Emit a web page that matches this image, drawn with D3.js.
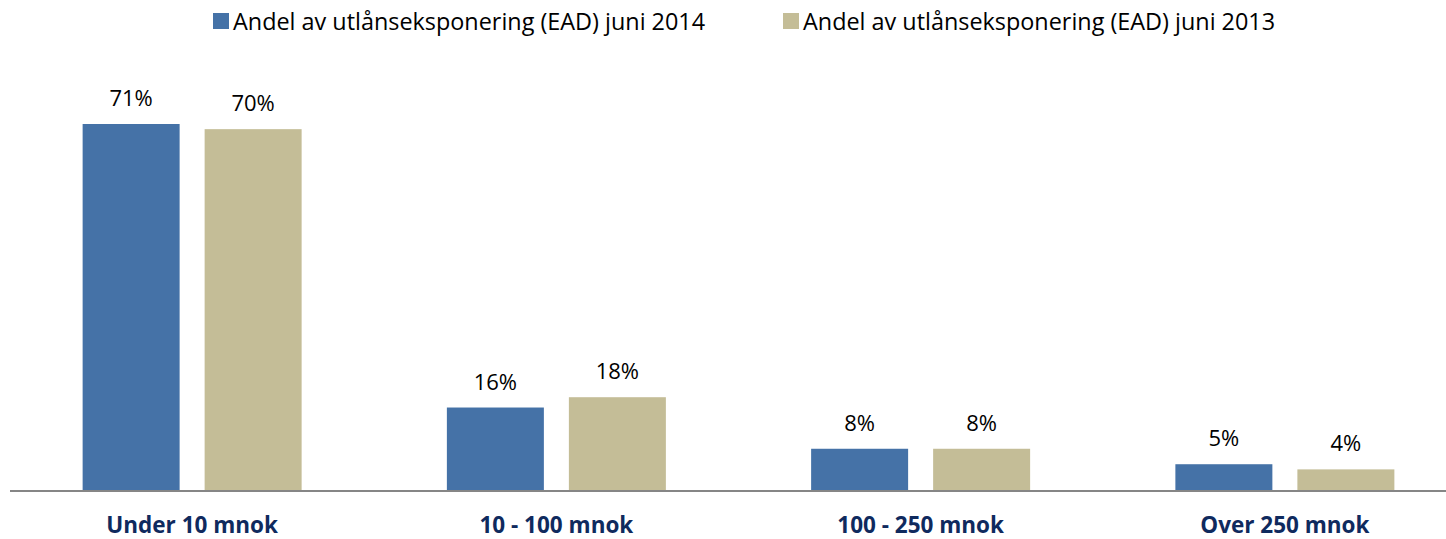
<!DOCTYPE html>
<html>
<head>
<meta charset="utf-8">
<script src="https://cdn.jsdelivr.net/npm/d3@7"></script>
<style>
  html, body { margin: 0; padding: 0; background: #fff; }
  svg { display: block; }
</style>
</head>
<body>
<svg id="chart" width="1446" height="539"></svg>
<script>
// Exposure size buckets and the two reporting periods
const categories = ["Under 10 mnok", "10 - 100 mnok", "100 - 250 mnok", "Over 250 mnok"];
const seriesNames = ["Andel av utlånseksponering (EAD) juni 2014", "Andel av utlånseksponering (EAD) juni 2013"];
const values2014 = [71, 16, 8, 5];
const values2013 = [70, 18, 8, 4];
const seriesColors = ["#4572A7", "#C4BD97"];

const svg = d3.select("#chart");
const font = "'Open Sans', sans-serif";

const baseline = 490;
const x0 = d3.scaleBand().domain(categories).range([10, 1467]);
// two bars per group, centred in each category band
const groupW = 219;
const x1 = d3.scaleBand().domain([0, 1])
  .range([(x0.bandwidth() - groupW) / 2, (x0.bandwidth() + groupW) / 2])
  .paddingInner(0.205).paddingOuter(0);
const y = d3.scaleLinear().domain([0, 71]).range([baseline, 124]);

const rows = categories.map((c, i) => ({ cat: c, vals: [values2014[i], values2013[i]] }));

const groups = svg.append("g").selectAll("g").data(rows).join("g")
  .attr("transform", d => `translate(${x0(d.cat)},0)`);

groups.selectAll("rect").data(d => d.vals.map((v, k) => ({ v, k }))).join("rect")
  .attr("x", d => x1(d.k))
  .attr("width", x1.bandwidth())
  .attr("y", d => y(d.v))
  .attr("height", d => baseline - y(d.v))
  .attr("fill", d => seriesColors[d.k]);

groups.selectAll("text.val").data(d => d.vals.map((v, k) => ({ v, k }))).join("text")
  .attr("class", "val")
  .attr("x", d => x1(d.k) + x1.bandwidth() / 2)
  .attr("y", d => y(d.v) - 18)
  .attr("text-anchor", "middle")
  .attr("font-family", font)
  .attr("font-size", 22)
  .attr("fill", "#000")
  .text(d => d.v + "%");

// Category axis: baseline rule plus bold labels
const xAxis = d3.axisBottom(x0).tickSize(0).tickPadding(0);
const axisG = svg.append("g").attr("transform", `translate(0,${baseline})`).call(xAxis);
axisG.select(".domain").remove();
axisG.selectAll("text")
  .attr("y", 43)
  .attr("dy", 0)
  .attr("font-family", font)
  .attr("font-size", 22.5)
  .attr("font-weight", "bold")
  .attr("fill", "#0F2A5E");
svg.append("line")
  .attr("x1", 10).attr("x2", 1446)
  .attr("y1", baseline + 1).attr("y2", baseline + 1)
  .attr("stroke", "#868686").attr("stroke-width", 2);

// Legend
const legendX = [213, 783];
const legend = svg.append("g").selectAll("g").data(seriesNames).join("g")
  .attr("transform", (d, i) => `translate(${legendX[i]},0)`);
legend.append("rect").attr("x", 0).attr("y", 13).attr("width", 16).attr("height", 16)
  .attr("fill", (d, i) => seriesColors[i]);
legend.append("text").attr("x", 20).attr("y", 30)
  .attr("font-family", font).attr("font-size", 23.4).attr("fill", "#000")
  .text(d => d);
</script>
</body>
</html>
